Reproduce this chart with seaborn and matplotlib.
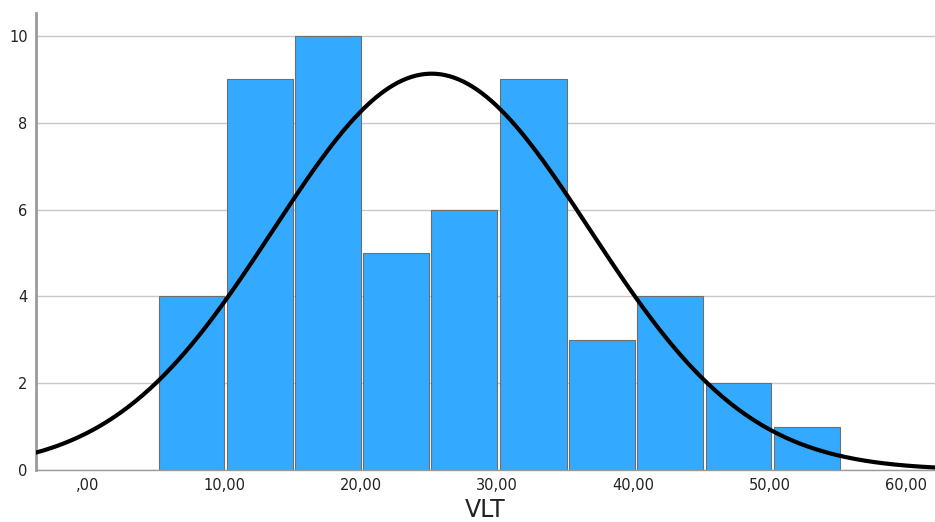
import numpy as np
import pandas as pd
import matplotlib
matplotlib.use("Agg")
import matplotlib.pyplot as plt
import seaborn as sns

# Data
bin_edges = [5.1, 10.1, 15.1, 20.1, 25.1, 30.1, 35.2, 40.2, 45.2, 50.2, 55.2]
counts = [4, 9, 10, 5, 6, 9, 3, 4, 2, 1]
curve_mean = 25.2
curve_sd = 11.6
n_total = sum(counts)
x_ticks = [0, 10, 20, 30, 40, 50, 60]
x_tick_labels = [",00", "10,00", "20,00", "30,00", "40,00", "50,00", "60,00"]
y_ticks = [0, 2, 4, 6, 8, 10]
x_label = "VLT"

sns.set_theme(style="white")
plt.rcParams['font.family'] = ['DejaVu Sans']

fig = plt.figure(figsize=(9.35, 5.22), dpi=100)
ax = fig.add_axes([0.0385, 0.0996, 0.9615, 0.8755])

centers = [(bin_edges[i] + bin_edges[i + 1]) / 2 for i in range(len(counts))]
df = pd.DataFrame({"x": centers, "w": counts})
sns.histplot(data=df, x="x", weights="w", bins=bin_edges, shrink=0.965,
             color="#33aaff", alpha=1.0, edgecolor="#6e6e6e", linewidth=0.8,
             ax=ax, zorder=2)

xs = np.linspace(-5, 64, 400)
bw = (bin_edges[-1] - bin_edges[0]) / len(counts)
ys = n_total * bw / (curve_sd * np.sqrt(2 * np.pi)) * np.exp(-0.5 * ((xs - curve_mean) / curve_sd) ** 2)
sns.lineplot(x=xs, y=ys, color="black", linewidth=3, ax=ax, zorder=3)

ax.set_xlim(-3.8, 62.1)
ax.set_ylim(0, 10.53)
ax.set_xticks(x_ticks)
ax.set_xticklabels(x_tick_labels, fontsize=10.5, color="#222222")
ax.set_yticks(y_ticks)
ax.set_yticklabels([str(v) for v in y_ticks], fontsize=10.5, color="#222222")
ax.tick_params(axis="x", length=0, pad=6)
ax.tick_params(axis="y", length=0, pad=6)
ax.yaxis.grid(True, color="#c8c8c8", linewidth=1.0, zorder=0)
ax.xaxis.grid(False)
ax.set_axisbelow(True)
ax.set_ylabel("")
ax.set_xlabel(x_label, fontsize=17, color="#222222", va="baseline")
ax.xaxis.set_label_coords(0.5, -0.102)

for side in ["top", "right"]:
    ax.spines[side].set_visible(False)
ax.spines["left"].set_color("#9a9a9a")
ax.spines["left"].set_linewidth(2.0)
ax.spines["bottom"].set_color("#9a9a9a")
ax.spines["bottom"].set_linewidth(1.0)

fig.savefig("out.png", dpi=100)
